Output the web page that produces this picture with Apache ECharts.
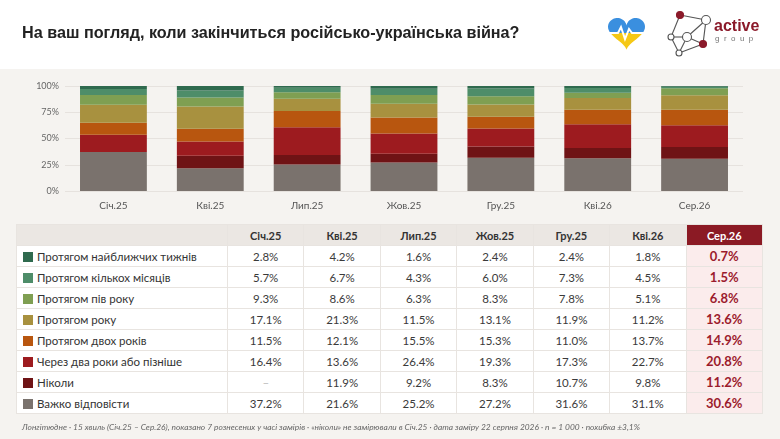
<!DOCTYPE html>
<html>
<head>
	<meta charset="utf-8">
	<title>Коли закінчиться війна</title>
	<script src="https://cdn.jsdelivr.net/npm/echarts@6/dist/echarts.min.js"></script>
	<style>
		html, body { margin:0; padding:0; }
		body { width:780px; height:439px; position:relative; overflow:hidden; background:#f5f3f0; font-family:Lato, 'Noto Sans', sans-serif; }
		#head { position:absolute; left:0; top:0; width:780px; height:69px; background:#fff; }
		#main { position:absolute; left:0; top:0; width:780px; height:439px; }
		#tbl { position:absolute; left:16px; top:224px; width:747px; border-collapse:collapse; table-layout:fixed; background:#fff; font-size:11.5px; color:#3a3a3a; }
		#tbl th, #tbl td { height:20px; padding:0; border:1px solid #e8e4e0; text-align:center; white-space:nowrap; }
		#tbl th { background:#ebe7e3; font-weight:bold; font-size:11px; color:#333; }
		#tbl td.lbl { text-align:left; padding-left:6px; font-size:11.5px; color:#333; }
		#tbl .sw { display:inline-block; width:10px; height:10px; margin-right:4px; vertical-align:-1px; }
		#tbl th.hl { background:#8b1a24; color:#fff; }
		#tbl td.hl { background:#fbecec; color:#9b1b2c; font-weight:bold; font-size:13px; }
		#tbl td.na { color:#bbb; }
		#foot { position:absolute; left:22px; top:422px; font-size:8.4px; font-style:italic; color:#666; white-space:nowrap; }
	</style>
</head>
<body>
	<div id="head"></div>
	<div id="main"></div>
	<table id="tbl"></table>
	<div id="foot">Лонгітюдне · 15 хвиль (Січ.25 – Сер.26), показано 7 рознесених у часі замірів · «ніколи» не замірювали в Січ.25 · дата заміру 22 серпня 2026 · n = 1 000 · похибка ±3,1%</div>

<script type="text/javascript">
	// хвилі опитування
	var waves = ['Січ.25', 'Кві.25', 'Лип.25', 'Жов.25', 'Гру.25', 'Кві.26', 'Сер.26'];

	// відповіді, в порядку таблиці (зверху вниз)
	var answers = [
		'Протягом найближчих тижнів',
		'Протягом кількох місяців',
		'Протягом пів року',
		'Протягом року',
		'Протягом двох років',
		'Через два роки або пізніше',
		'Ніколи',
		'Важко відповісти'
	];
	var colors = ['#2f6a4e', '#4e8d69', '#7f9f52', '#a8913f', '#b8560f', '#9d1b1f', '#6f1315', '#7a726d'];

	// відсотки по хвилях
	var weeks    = [2.8, 4.2, 1.6, 2.4, 2.4, 1.8, 0.7];
	var months   = [5.7, 6.7, 4.3, 6.0, 7.3, 4.5, 1.5];
	var halfYear = [9.3, 8.6, 6.3, 8.3, 7.8, 5.1, 6.8];
	var oneYear  = [17.1, 21.3, 11.5, 13.1, 11.9, 11.2, 13.6];
	var twoYears = [11.5, 12.1, 15.5, 15.3, 11.0, 13.7, 14.9];
	var later    = [16.4, 13.6, 26.4, 19.3, 17.3, 22.7, 20.8];
	var never    = [null, 11.9, 9.2, 8.3, 10.7, 9.8, 11.2];
	var hard     = [37.2, 21.6, 25.2, 27.2, 31.6, 31.1, 30.6];

	var yTicks = [0, 25, 50, 75, 100];

	var rows = [weeks, months, halfYear, oneYear, twoYears, later, never, hard];
	var hlIndex = waves.length - 1;

	buildTable();
	drawChart();

	//таблиця під графіком
	function buildTable(){
		var html = '<colgroup><col style="width:211px">';
		for(var i = 0; i < waves.length; i++){
			html += '<col>';
		}
		html += '</colgroup><tr><th></th>';
		for(var i = 0; i < waves.length; i++){
			html += '<th' + (i == hlIndex ? ' class="hl"' : '') + '>' + waves[i] + '</th>';
		}
		html += '</tr>';
		for(var r = 0; r < rows.length; r++){
			html += '<tr><td class="lbl"><span class="sw" style="background:' + colors[r] + '"></span>' + answers[r] + '</td>';
			for(var i = 0; i < waves.length; i++){
				var v = rows[r][i];
				var cls = [];
				if(i == hlIndex) cls.push('hl');
				if(v === null) cls.push('na');
				html += '<td' + (cls.length ? ' class="' + cls.join(' ') + '"' : '') + '>' + (v === null ? '–' : v.toFixed(1) + '%') + '</td>';
			}
			html += '</tr>';
		}
		document.getElementById('tbl').innerHTML = html;
	}

	//графік + шапка
	function drawChart(){
		var series = [];
		// знизу вгору: від "важко відповісти" до "найближчих тижнів"
		for(var r = rows.length - 1; r >= 0; r--){
			series.push({
				name: answers[r],
				type: 'bar',
				stack: 'all',
				barCategoryGap: '31%',
				itemStyle: { color: colors[r] },
				data: rows[r]
			});
		}

		var option = {
			animation: false,
			textStyle: { fontFamily: 'Lato' },
			title: {
				text: 'На ваш погляд, коли закінчиться російсько-українська війна?',
				left: 17,
				top: 21,
				textStyle: { fontFamily: 'Liberation Sans', fontSize: 16.2, fontWeight: 'bold', color: '#222' }
			},
			grid: { left: 65, right: 37, top: 86, bottom: 248 },
			xAxis: {
				type: 'category',
				data: waves,
				axisLine: { show: false },
				axisTick: { show: false },
				axisLabel: { color: '#555', fontSize: 10, margin: 10 }
			},
			yAxis: {
				type: 'value',
				min: yTicks[0],
				max: yTicks[yTicks.length - 1],
				interval: 25,
				axisLabel: { color: '#666', fontSize: 9, formatter: '{value}%', margin: 6 },
				splitLine: { lineStyle: { color: '#e6e2de', width: 1 } }
			},
			series: series,
			graphic: logos()
		};

		var myChart = echarts.init(document.getElementById('main'));
		myChart.setOption(option);
	}

	//контур серця, вписаний у прямокутник
	function heartPoints(x0, y0, w, h){
		var raw = [];
		var minX = 1e9, maxX = -1e9, minY = 1e9, maxY = -1e9;
		for(var i = 0; i < 80; i++){
			var t = i / 80 * Math.PI * 2;
			var px = 16 * Math.pow(Math.sin(t), 3);
			var py = -(13 * Math.cos(t) - 5 * Math.cos(2 * t) - 2 * Math.cos(3 * t) - Math.cos(4 * t));
			raw.push([px, py]);
			minX = Math.min(minX, px); maxX = Math.max(maxX, px);
			minY = Math.min(minY, py); maxY = Math.max(maxY, py);
		}
		return raw.map(function(p){
			return [x0 + (p[0] - minX) / (maxX - minX) * w, y0 + (p[1] - minY) / (maxY - minY) * h];
		});
	}

	//логотипи праворуч у шапці
	function logos(){
		var g = [];
		// серце
		g.push({
			type: 'polygon',
			shape: { points: heartPoints(608, 18, 37, 32) },
			style: {
				fill: new echarts.graphic.LinearGradient(0, 0, 0, 1, [
					{ offset: 0, color: '#3a8fdf' }, { offset: 0.47, color: '#3a8fdf' },
					{ offset: 0.47, color: '#f5c816' }, { offset: 1, color: '#f5c816' }
				])
			}
		});
		g.push({
			type: 'polyline',
			shape: { points: [[608, 33], [618, 33], [621, 27], [625, 39], [629, 29], [632, 33], [645, 33]] },
			style: { stroke: '#fff', lineWidth: 2, fill: 'none' }
		});

		// мережа
		var n = { a: [680, 15], b: [706, 20], c: [687, 37], d: [671, 37], e: [703, 44], f: [679, 53] };
		var edges = [['a', 'b'], ['b', 'e'], ['e', 'f'], ['f', 'd'], ['d', 'a'], ['c', 'b'], ['c', 'd'], ['c', 'f'], ['c', 'e']];
		for(var i = 0; i < edges.length; i++){
			g.push({
				type: 'line',
				shape: { x1: n[edges[i][0]][0], y1: n[edges[i][0]][1], x2: n[edges[i][1]][0], y2: n[edges[i][1]][1] },
				style: { stroke: '#555', lineWidth: 1.1 }
			});
		}
		var nodes = [['a', 3.5, '#8b1a2a'], ['b', 4.5, '#fff'], ['c', 4.5, '#fff'], ['d', 3, '#fff'], ['e', 3.5, '#8b1a2a'], ['f', 3, '#fff']];
		for(var i = 0; i < nodes.length; i++){
			g.push({
				type: 'circle',
				shape: { cx: n[nodes[i][0]][0], cy: n[nodes[i][0]][1], r: nodes[i][1] },
				style: { fill: nodes[i][2], stroke: nodes[i][2] == '#fff' ? '#555' : '#8b1a2a', lineWidth: 1.1 }
			});
		}
		g.push({
			type: 'text', x: 714, y: 19,
			style: { text: 'active', fill: '#8b1a2a', font: 'bold 16px "Liberation Sans"' }
		});
		g.push({
			type: 'text', x: 715, y: 35,
			style: { text: 'g  r  o  u  p', fill: '#777', font: '8px "Liberation Sans"' }
		});
		return g;
	}
</script>
</body>
</html>
